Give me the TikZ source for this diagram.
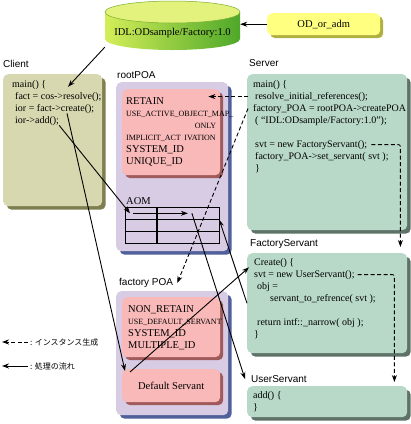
\documentclass[tikz,border=0pt]{standalone}
\usepackage{fontspec}
\setmainfont{Liberation Serif}
\setsansfont{Liberation Sans}
\newfontfamily\jpfont{Noto Sans CJK JP}
\usetikzlibrary{arrows.meta,shadows,positioning,calc}

\definecolor{clientfill}{HTML}{D8D8B0}
\definecolor{clientshade}{HTML}{7E7E50}
\definecolor{poafill}{HTML}{D8CCE4}
\definecolor{poashade}{HTML}{50609A}
\definecolor{policyfill}{HTML}{F9B9B9}
\definecolor{policyshade}{HTML}{A05A5A}
\definecolor{srvfill}{HTML}{B8D8C8}
\definecolor{srvshade}{HTML}{5E7268}
\definecolor{admfill}{HTML}{FFFF80}
\definecolor{admshade}{HTML}{B0B040}
\definecolor{idltop}{HTML}{E2F27C}
\definecolor{idlleft}{HTML}{D4EE58}
\definecolor{idlright}{HTML}{4EA82A}
\definecolor{idledge}{HTML}{7AAE30}

\newcommand\policy[1]{{\fontsize{8}{12}\selectfont\mbox{#1}}}

\begin{document}
\begin{tikzpicture}[x=1pt, y=-1pt, >={Stealth[length=7pt,width=5pt]}]
    \tikzstyle{box}=[anchor=north west, rounded corners=5pt, inner sep=0pt]
    \tikzstyle{client box}=[box, fill=clientfill, drop shadow={shadow xshift=3.5pt, shadow yshift=-3.5pt, fill=clientshade, opacity=1}]
    \tikzstyle{poa box}=[box, fill=poafill, drop shadow={shadow xshift=3.5pt, shadow yshift=-3.5pt, fill=poashade, opacity=1}]
    \tikzstyle{policy box}=[box, fill=policyfill, drop shadow={shadow xshift=3pt, shadow yshift=-3pt, fill=policyshade, opacity=1}, font=\fontsize{10.5}{12}\selectfont]
    \tikzstyle{servant box}=[box, fill=srvfill, drop shadow={shadow xshift=3.5pt, shadow yshift=-3.5pt, fill=srvshade, opacity=1}]
    \tikzstyle{box title}=[anchor=west, inner sep=0pt, font=\sffamily\fontsize{10}{12}\selectfont]
    \tikzstyle{code line}=[anchor=base west, inner sep=0pt, font=\fontsize{10}{12}\selectfont]
    \tikzstyle{aom cell}=[draw, line width=0.6pt, minimum height=12pt, inner sep=0pt, anchor=north west]
    \tikzstyle{flow}=[->, line width=0.9pt]
    \tikzstyle{create}=[->, line width=0.9pt, dash pattern=on 4pt off 2.5pt]
    \tikzstyle{legend}=[anchor=west, inner sep=0pt, font=\jpfont\fontsize{8}{10}\selectfont]

    \useasboundingbox (0,0) rectangle (411,424);

    % Interface repository
    \shade[left color=idlleft, right color=idlright] (105,12) -- (105,39)
        arc[start angle=180, end angle=360, x radius=67.5pt, y radius=11pt] -- (240,12) -- cycle;
    \filldraw[fill=idltop, draw=idledge, line width=0.5pt] (172.5,12) ellipse [x radius=67.5pt, y radius=11pt];
    \node[font=\fontsize{10.5}{12}\selectfont, minimum width=135pt, minimum height=28pt, inner sep=0pt] (idl) at (172.5,33) {IDL:ODsample/Factory:1.0};
    \node[box, fill=admfill, drop shadow={shadow xshift=3pt, shadow yshift=-3pt, fill=admshade, opacity=1},
        minimum width=113pt, minimum height=22pt, font=\fontsize{10.5}{12}\selectfont] (odadm) at (267,13) {OD\_or\_adm};

    % Client
    \node[box title] (client-lbl) at (3,64) {Client};
    \node[client box, minimum width=99pt, minimum height=132pt] (client) at (3,74) {};
    \foreach \i/\x/\y/\txt in {1/12/87/{main() \{}, 2/15/99/{fact = cos->resolve();},
                               3/15/111/{ior = fact->create();}, 4/15/123/{ior->add();}}
        \node[code line] (cl-\i) at (\x,\y) {\txt};

    % rootPOA with its policies and the AOM
    \node[box title] (root-lbl) at (117,75) {rootPOA};
    \node[poa box, minimum width=112pt, minimum height=169pt] (rootpoa) at (116,82) {};
    \node[policy box, text width=90pt, inner xsep=4pt, minimum height=86pt, align=left] (retain) at (122,89)
        {RETAIN\\ \policy{USE\_ACTIVE\_OBJECT\_MAP\_}\\ \hfill\policy{ONLY}\\ \policy{IMPLICIT\_ACT IVATION}\\ SYSTEM\_ID\\ UNIQUE\_ID};
    \node[anchor=base west, inner sep=0pt, font=\fontsize{10.5}{12}\selectfont] (aom-lbl) at (126,204) {AOM};
    \foreach \r in {1,2,3} {
        \node[aom cell, minimum width=31pt] (aom-k\r) at (125,{195+12*\r}) {};
        \node[aom cell, minimum width=62pt, right=0pt of aom-k\r] (aom-v\r) {};
    }

    % factory POA
    \node[box title] (fpoa-lbl) at (119,283) {factory POA};
    \node[poa box, minimum width=112pt, minimum height=124pt] (factpoa) at (116,291) {};
    \node[policy box, text width=86pt, inner xsep=6pt, minimum height=60pt, align=left] (nonretain) at (122,297)
        {NON\_RETAIN\\ \policy{USE\_DEFAULT\_SERVANT}\\ SYSTEM\_ID\\ MULTIPLE\_ID};
    \node[policy box, minimum width=98pt, minimum height=33pt] (defsvt) at (122,369) {Default Servant};

    % Server
    \node[box title] (srv-lbl) at (249,63) {Server};
    \node[servant box, minimum width=160pt, minimum height=156pt] (server) at (247,74) {};
    \foreach \i/\x/\y/\txt in {1/253/87/{main() \{}, 2/255/99/{resolve\_initial\_references();},
                               3/253/111/{factory\_POA = rootPOA->createPOA}, 4/255/123/{( “IDL:ODsample/Factory:1.0”);},
                               5/255/147/{svt = new FactoryServant();}, 6/255/159/{factory\_POA->set\_servant( svt );},
                               7/255/171/{\}}}
        \node[code line] (sv-\i) at (\x,\y) {\txt};

    % FactoryServant
    \node[box title] (fs-lbl) at (250,244) {FactoryServant};
    \node[servant box, minimum width=160pt, minimum height=100pt] (fsvt) at (247,253) {};
    \foreach \i/\x/\y/\txt in {1/254/265/{Create() \{}, 2/254/277/{svt = new UserServant();},
                               3/257/289/{obj =}, 4/270/301/{servant\_to\_refrence( svt );},
                               5/257/325/{return intf::\_narrow( obj );}, 6/254/337/{\}}}
        \node[code line] (fs-\i) at (\x,\y) {\txt};

    % UserServant
    \node[box title] (us-lbl) at (251,379) {UserServant};
    \node[servant box, minimum width=160pt, minimum height=31pt] (usvt) at (247,386) {};
    \foreach \i/\y/\txt in {1/398/{add() \{}, 2/410/{\}}}
        \node[code line] (us-\i) at (253,\y) {\txt};

    % Legend
    \node[legend] (lg-create) at (30,342) {: インスタンス生成};
    \node[legend] (lg-flow) at (30,366) {: 処理の流れ};
    \coordinate (lg-create-tip) at (2,342);
    \coordinate (lg-flow-tip) at (2,366);
    \draw[create] ([xshift=-2pt]lg-create.west) -- (lg-create-tip);
    \draw[flow] ([xshift=-2pt]lg-flow.west) -- (lg-flow-tip);

    % Instance creation
    \draw[create] ([xshift=-7pt]sv-2.west) -- ($(sv-2.west -| retain.east)+(-12,0)$);
    \draw[create] ([xshift=-5pt]sv-3.west) -- ([xshift=4pt]fpoa-lbl.east);
    \draw[create, rounded corners=2pt] ([xshift=4pt]sv-5.east) -| ([xshift=-7pt,yshift=6pt]fsvt.north east);
    \draw[create, rounded corners=2pt] ([xshift=3pt]fs-2.east) -| ([xshift=-13pt,yshift=4pt]usvt.north east);

    % Flow of processing
    \draw[flow] (odadm.west) -- (odadm.west -| idl.east);
    \draw[flow] (idl.south west) -- ([xshift=53pt,yshift=5pt]cl-2.north west);
    \draw[flow] ([xshift=52pt]cl-3.south west) -- ([xshift=3pt,yshift=-2pt]defsvt.north west);
    \draw[flow] ([xshift=8pt,yshift=-3pt]defsvt.north west) -- ([xshift=-5pt]fs-1.south west);
    \draw[flow] (cl-4.south east) -- ([xshift=5pt]aom-k1.west);
    \draw[flow] ([xshift=8pt]aom-k1.west) -- (aom-v1.center);
    \draw[flow] ([xshift=4pt]aom-v1.center) -- ([xshift=-6pt]us-lbl.west);
    \draw[flow] (fsvt.west) -- (aom-v1.south east);
\end{tikzpicture}
\end{document}
